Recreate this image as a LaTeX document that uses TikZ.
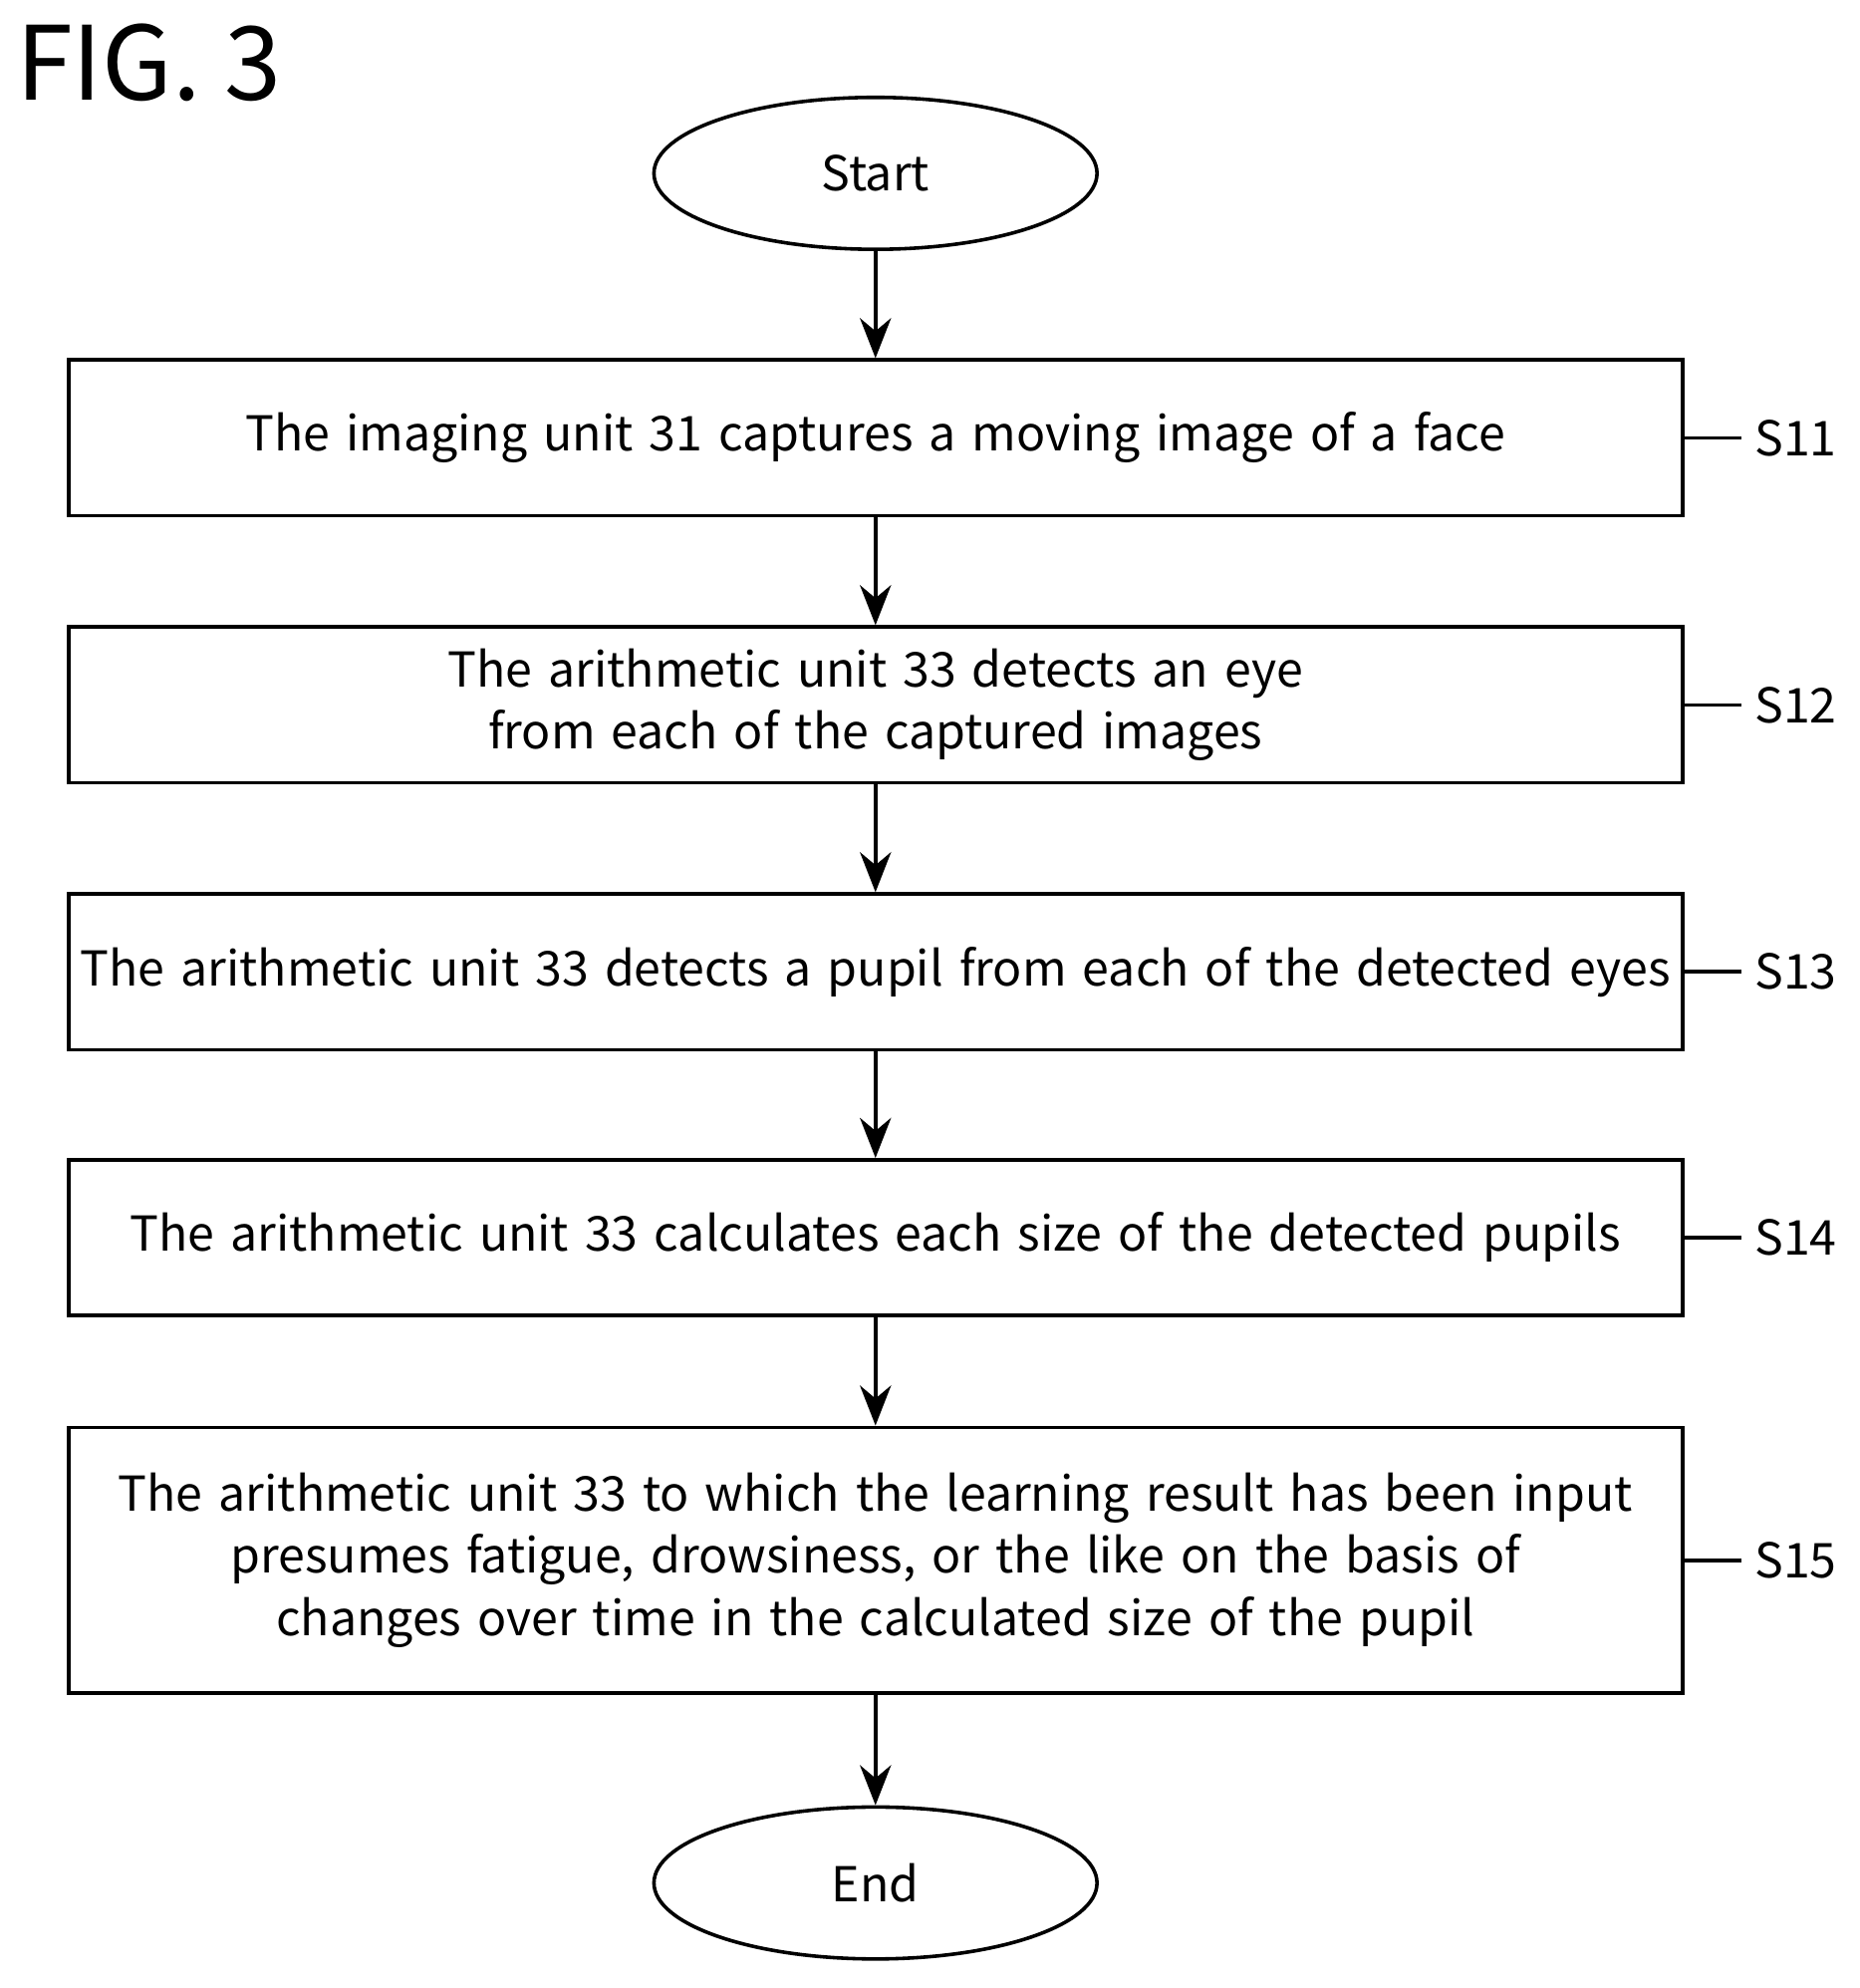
\documentclass[tikz,border=0pt]{standalone}
\usepackage{fontspec}
\setmainfont{Noto Sans CJK JP}
\usetikzlibrary{shapes.geometric,arrows.meta}
\begin{document}
\begin{tikzpicture}[x=0.01cm,y=-0.01cm,
	every node/.style={font=\fontsize{10.8}{14}\selectfont},
	stepbox/.style={draw, thick, text width=12.75cm, align=center, inner sep=0pt},
	term/.style={draw, thick, ellipse, minimum width=3.5cm, minimum height=1.2cm},
	flow/.style={thick, -{Stealth[length=9pt,width=7pt]}}]

	\useasboundingbox (0,0) rectangle (1470,1571);

	\node[anchor=north west, inner sep=0pt, font=\fontsize{23}{26}\selectfont] (fig) at (12,18) {FIG. 3};

	\node[term]                            (start) at (692, 137) {Start};
	\node[stepbox, minimum height=1.23cm] (s11)   at (692, 346) {The imaging unit 31 captures a moving image of a face};
	\node[stepbox, minimum height=1.23cm] (s12)   at (692, 557) {The arithmetic unit 33 detects an eye\\from each of the captured images};
	\node[stepbox, minimum height=1.23cm] (s13)   at (692, 768) {The arithmetic unit 33 detects a pupil from each of the detected eyes};
	\node[stepbox, minimum height=1.23cm] (s14)   at (692, 978) {The arithmetic unit 33 calculates each size of the detected pupils};
	\node[stepbox, minimum height=2.10cm] (s15)   at (692,1233) {The arithmetic unit 33 to which the learning result has been input\\presumes fatigue, drowsiness, or the like on the basis of\\changes over time in the calculated size of the pupil};
	\node[term]                            (end)   at (692,1488) {End};

	\draw[flow] (start) -- (s11);
	\draw[flow] (s11) -- (s12);
	\draw[flow] (s12) -- (s13);
	\draw[flow] (s13) -- (s14);
	\draw[flow] (s14) -- (s15);
	\draw[flow] (s15) -- (end);

	\foreach \s in {11,12,13,14,15} {
		\node[anchor=west, inner sep=0pt] (l\s) at ([xshift=0.55cm]s\s.east) {S\s};
		\draw[thick] (s\s.east) -- ([xshift=-0.1cm]l\s.west);
	}
\end{tikzpicture}
\end{document}
